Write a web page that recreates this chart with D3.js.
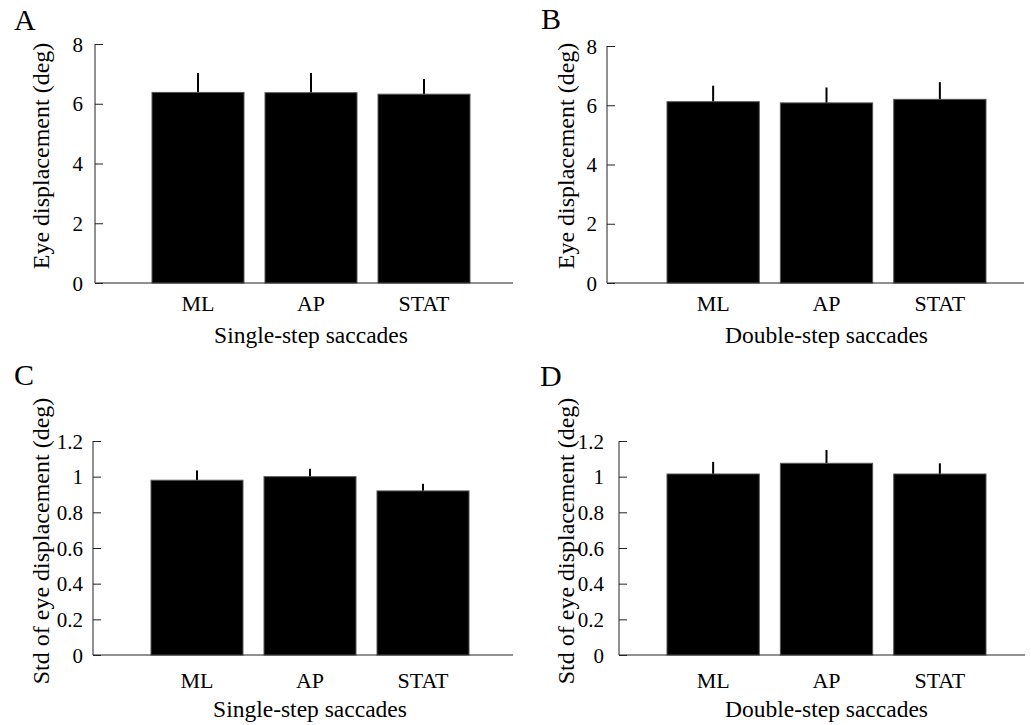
<!DOCTYPE html>
<html>
<head>
<meta charset="utf-8">
<title>eye displacement</title>
<style>
  body { margin: 0; background: #fff; }
  svg text { font-family: "Liberation Serif", "Times New Roman", serif; fill: #000; }
  .axis path, .axis line { stroke: #222; stroke-width: 1px; }
</style>
</head>
<body>
<svg id="chart" width="1031" height="725"></svg>
<script src="https://cdn.jsdelivr.net/npm/d3@7"></script>
<script>
// values
var categories = ["ML", "AP", "STAT"];
var dispSingle = [6.38, 6.37, 6.32];
var dispSingleErr = [0.65, 0.66, 0.51];
var dispDouble = [6.12, 6.08, 6.20];
var dispDoubleErr = [0.54, 0.52, 0.58];
var stdSingle = [0.98, 1.00, 0.92];
var stdSingleErr = [0.055, 0.045, 0.04];
var stdDouble = [1.015, 1.075, 1.015];
var stdDoubleErr = [0.068, 0.075, 0.06];
var dispTicks = [0, 2, 4, 6, 8];
var stdTicks = [0, 0.2, 0.4, 0.6, 0.8, 1, 1.2];

var svg = d3.select('#chart');

var panels = [
  {letter: 'A', lx: 14, ly: 30, values: dispSingle, errs: dispSingleErr, max: 8, ticks: dispTicks,
   axisX: 95, top: 44, bottom: 283, right: 513, bars: [152, 470], pad: 12,
   ylab: 'Eye displacement (deg)', ylx: 41, yly: 156, catY: 311, xlab: 'Single-step saccades', xly: 343},
  {letter: 'B', lx: 541, ly: 29, values: dispDouble, errs: dispDoubleErr, max: 8, ticks: dispTicks,
   axisX: 607, top: 46, bottom: 283, right: 1024, bars: [667, 986], pad: 10,
   ylab: 'Eye displacement (deg)', ylx: 566, yly: 156, catY: 311, xlab: 'Double-step saccades', xly: 343},
  {letter: 'C', lx: 14, ly: 385, values: stdSingle, errs: stdSingleErr, max: 1.2, ticks: stdTicks,
   axisX: 93, top: 441, bottom: 655, right: 513, bars: [151, 469], pad: 10,
   ylab: 'Std of eye displacement (deg)', ylx: 41, yly: 541, catY: 688, xlab: 'Single-step saccades', xly: 717},
  {letter: 'D', lx: 540, ly: 386, values: stdDouble, errs: stdDoubleErr, max: 1.2, ticks: stdTicks,
   axisX: 619, top: 441, bottom: 655, right: 1025, bars: [667, 986], pad: 15,
   ylab: 'Std of eye displacement (deg)', ylx: 566, yly: 541, catY: 688, xlab: 'Double-step saccades', xly: 717}
];

panels.forEach(function(p) {
  var x = d3.scaleBand().domain(categories).range(p.bars).paddingInner(0.186).paddingOuter(0);
  var y = d3.scaleLinear().domain([0, p.max]).range([p.bottom, p.top]);
  var g = svg.append('g');

  // error bars (upper half only), drawn under the bars
  g.selectAll('line.err')
    .data(categories)
    .enter()
    .append('line')
    .attr('class', 'err')
    .attr('x1', function(d) {return x(d) + x.bandwidth() / 2;})
    .attr('x2', function(d) {return x(d) + x.bandwidth() / 2;})
    .attr('y1', function(d, i) {return y(p.values[i]);})
    .attr('y2', function(d, i) {return y(p.values[i] + p.errs[i]);})
    .attr('stroke', '#000')
    .attr('stroke-width', 2);

  g.selectAll('rect')
    .data(categories)
    .enter()
    .append('rect')
    .attr('x', function(d) {return x(d);})
    .attr('width', x.bandwidth())
    .attr('y', function(d, i) {return y(p.values[i]);})
    .attr('height', function(d, i) {return p.bottom - y(p.values[i]);})
    .attr('fill', '#000')
    .attr('stroke', '#555')
    .attr('stroke-width', 1);

  // y axis with inward ticks
  var yAxis = d3.axisLeft(y)
    .tickValues(p.ticks)
    .tickFormat(function(d) {return String(+d.toFixed(1));})
    .tickSizeInner(-8)
    .tickSizeOuter(0)
    .tickPadding(p.pad);
  var ya = g.append('g')
    .attr('class', 'axis')
    .attr('transform', 'translate(' + p.axisX + ',0)')
    .call(yAxis);
  ya.selectAll('text').style('font-size', '21px').attr('dy', '0.34em');
  ya.select('.domain').attr('d', 'M0,' + p.top + 'V' + p.bottom);

  // x axis: plain baseline, labels only
  g.append('line')
    .attr('class', 'axis')
    .attr('x1', p.axisX).attr('x2', p.right)
    .attr('y1', p.bottom).attr('y2', p.bottom)
    .attr('stroke', '#222');

  g.selectAll('text.cat')
    .data(categories)
    .enter()
    .append('text')
    .attr('class', 'cat')
    .attr('x', function(d) {return x(d) + x.bandwidth() / 2;})
    .attr('y', p.catY)
    .attr('text-anchor', 'middle')
    .style('font-size', '22px')
    .text(function(d) {return d;});

  g.append('text')
    .attr('x', (p.bars[0] + p.bars[1]) / 2)
    .attr('y', p.xly)
    .attr('text-anchor', 'middle')
    .style('font-size', '23.5px')
    .text(p.xlab);

  g.append('text')
    .attr('transform', 'translate(' + p.ylx + ',' + p.yly + ') rotate(-90)')
    .attr('text-anchor', 'middle')
    .attr('dy', '0.35em')
    .style('font-size', '24px')
    .text(p.ylab);

  g.append('text')
    .attr('x', p.lx)
    .attr('y', p.ly)
    .style('font-size', '30px')
    .text(p.letter);
});
</script>
</body>
</html>
